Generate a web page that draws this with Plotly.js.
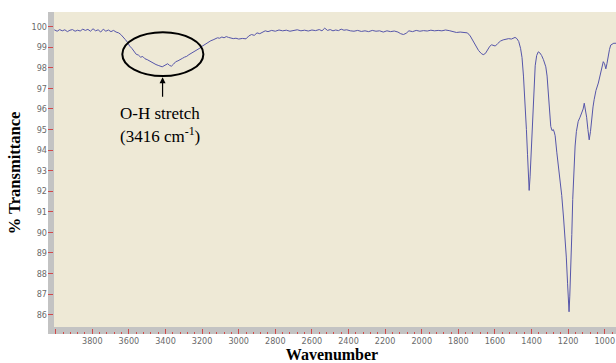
<!DOCTYPE html>
<html><head><meta charset="utf-8">
<script src="https://cdn.plot.ly/plotly-3.0.1.min.js"></script>
<style>html,body{margin:0;padding:0;background:#fff}</style>
</head><body><div id="chart" style="width:616px;height:363px"></div>
<script>
const wavenumber = [
4008,3992,3978,3964,3950,3936,3922,3908,3894,3880,3866,3852,3838,3824,3810,3796,3782,3768,3754,3740,3726,3712,3698,3684,3670,
3656,3644,3632,3620,3608,3596,3584,3572,3560,3548,3536,3524,3512,3500,3488,3476,3464,3452,3440,3428,3418,3408,3398,3388,3378,3368,
3356,3344,3332,3320,3308,3296,3284,3272,3260,3248,3236,3224,3212,3200,3188,3176,3164,3152,3140,3128,3116,3104,3092,3080,3068,3056,3044,
3030,3015,3000,2980,2960,2945,2930,2915,2900,2885,2870,2855,2840,2820,2800,2780,2760,2740,2720,2700,2680,2660,2640,2620,2600,2580,2560,
2545,2530,2515,2500,2485,2470,2455,2440,2425,2410,2390,2370,2350,2330,2310,2290,2270,2250,2230,2210,2190,2170,2150,2130,2115,2100,2085,
2070,2050,2030,2010,1990,1970,1950,1930,1910,1890,1870,1850,1830,1810,1790,1770,1750,1735,1720,1705,1690,1675,1664,1652,1640,1628,1618,
1608,1598,1585,1570,1555,1540,1525,1510,1500,1490,1480,1470,1460,1452,1444,1436,1428,1422,1417,1413,1408,1403,1399,1393,1387,1380,1372,
1363,1354,1345,1335,1322,1315,1308,1300,1295,1288,1281,1276,1271,1262,1253,1245,1235,1225,1217,1210,1203,1198,1195,1191,1186,1180,1175,
1168,1162,1155,1145,1135,1126,1118,1112,1106,1099,1092,1085,1078,1071,1064,1058,1048,1035,1025,1016,1008,1001,994,988,981,974,967,958,950,944,938
];
const transmittance = [
99.85,99.78,99.86,99.80,99.85,99.76,99.83,99.86,99.78,99.83,99.79,99.88,99.82,99.87,99.78,99.90,99.80,99.85,99.74,99.88,99.78,99.84,99.76,99.82,99.74,
99.70,99.62,99.52,99.38,99.25,99.06,98.95,98.80,98.66,98.62,98.52,98.55,98.44,98.40,98.33,98.30,98.20,98.16,98.12,98.08,98.05,98.10,98.16,98.20,98.12,98.08,
98.18,98.30,98.34,98.42,98.46,98.52,98.56,98.64,98.70,98.76,98.85,98.90,98.96,99.05,99.12,99.20,99.26,99.32,99.36,99.42,99.46,99.44,99.50,99.46,99.52,99.48,99.44,
99.42,99.44,99.40,99.43,99.41,99.55,99.62,99.58,99.70,99.66,99.74,99.80,99.76,99.82,99.78,99.84,99.80,99.83,99.78,99.82,99.85,99.80,99.83,99.79,99.84,99.81,99.86,
99.80,99.93,99.82,99.86,99.80,99.84,99.81,99.88,99.83,99.85,99.80,99.78,99.82,99.77,99.80,99.76,99.82,99.78,99.80,99.74,99.80,99.76,99.79,99.74,99.66,99.62,99.68,
99.80,99.76,99.82,99.78,99.81,99.79,99.83,99.80,99.82,99.80,99.84,99.81,99.78,99.72,99.74,99.73,99.70,99.55,99.30,99.05,98.85,98.70,98.64,98.70,98.88,99.05,99.12,
99.08,99.06,99.18,99.30,99.36,99.40,99.42,99.40,99.45,99.48,99.42,99.28,98.95,98.50,97.60,96.50,95.00,93.80,92.60,92.04,92.70,93.60,94.50,95.90,97.20,98.10,98.60,
98.78,98.72,98.60,98.40,98.05,97.60,96.80,95.80,95.15,94.95,95.00,94.88,94.70,93.90,93.20,92.80,91.80,90.70,89.90,88.80,87.50,86.60,86.14,86.90,88.00,89.90,91.60,
93.20,94.20,94.90,95.40,95.60,95.80,96.00,96.28,96.00,95.60,95.00,94.50,94.90,95.60,96.10,96.45,96.90,97.26,97.60,97.90,98.30,98.20,97.95,98.20,98.62,98.90,99.11,99.18,99.20,99.19,99.20
];
const yTickVals = [86,87,88,89,90,91,92,93,94,95,96,97,98,99,100];
const xTickVals = [4000,3800,3600,3400,3200,3000,2800,2600,2400,2200,2000,1800,1600,1400,1200,1000];
const xTickText = ['','3800','3600','3400','3200','3000','2800','2600','2400','2200','2000','1800','1600','1400','1200','1000'];
const xTitle = 'Wavenumber';
const yTitle = '% Transmittance';
const peakLabel1 = 'O-H stretch';
const peakLabel2 = '(3416 cm<sup>-1</sup>)';
const peakPos = 3416;

const tickFont = {family: 'Liberation Sans Narrow, DejaVu Sans Condensed, Arial Narrow, sans-serif', size: 9, color: '#6a6a6a'};
const serif = 'Liberation Serif, Times New Roman, serif';
const red = '#d24a4a';

const trace = {
  x: wavenumber, y: transmittance, type: 'scatter', mode: 'lines',
  line: {color: '#5656aa', width: 1}, hoverinfo: 'skip'
};

const layout = {
  width: 616, height: 363,
  margin: {l: 48, r: 0, t: 12, b: 29, pad: 0},
  paper_bgcolor: '#ffffff', plot_bgcolor: '#eee9d6',
  showlegend: false,
  xaxis: {
    range: [4042, 938.5], autorange: false,
    tickmode: 'array', tickvals: xTickVals, ticktext: xTickText,
    ticks: 'inside', ticklen: 5, tickwidth: 1, tickcolor: red,
    minor: {tickmode: 'linear', tick0: 4000, dtick: 40, ticks: 'inside', ticklen: 2.5, tickwidth: 1, tickcolor: red, showgrid: false},
    showgrid: false, zeroline: false, showline: false,
    tickfont: tickFont,
    title: {text: '<b>' + xTitle + '</b>', font: {family: serif, size: 16, color: '#000'}, standoff: 5}
  },
  yaxis: {
    range: [85.06, 100.715], autorange: false,
    tickmode: 'array', tickvals: yTickVals,
    ticks: 'inside', ticklen: 5, tickwidth: 1, tickcolor: red,
    showgrid: false, zeroline: false, showline: false,
    tickfont: tickFont,
    title: {text: '<b>' + yTitle + '</b>', font: {family: serif, size: 16.5, color: '#000'}, standoff: 6}
  },
  shapes: [
    {type: 'rect', xref: 'paper', yref: 'paper', x0: 0, x1: 6/568, y0: 0, y1: 1, fillcolor: '#c3c3c3', line: {width: 0}, layer: 'below'},
    {type: 'rect', xref: 'paper', yref: 'paper', x0: 0, x1: 1, y0: 0, y1: 7/322, fillcolor: '#c3c3c3', line: {width: 0}, layer: 'below'},
    {type: 'circle', xref: 'x', yref: 'y', x0: 3636, x1: 3193, y0: 97.60, y1: 99.73, line: {color: '#000', width: 2}, layer: 'above'}
  ],
  annotations: [
    {x: peakPos, y: 97.54, xref: 'x', yref: 'y', text: '', showarrow: true, ax: 0, ay: 21, arrowhead: 2, arrowsize: 1, arrowwidth: 1.2, arrowcolor: '#000'},
    {x: 3432, y: 95.78, xref: 'x', yref: 'y', text: peakLabel1, showarrow: false, xanchor: 'center', yanchor: 'middle', font: {family: serif, size: 17, color: '#000'}},
    {x: 3432, y: 94.74, xref: 'x', yref: 'y', text: peakLabel2, showarrow: false, xanchor: 'center', yanchor: 'middle', font: {family: serif, size: 17, color: '#000'}}
  ]
};

Plotly.newPlot('chart', [trace], layout, {staticPlot: true, displayModeBar: false});
</script>
</body></html>
